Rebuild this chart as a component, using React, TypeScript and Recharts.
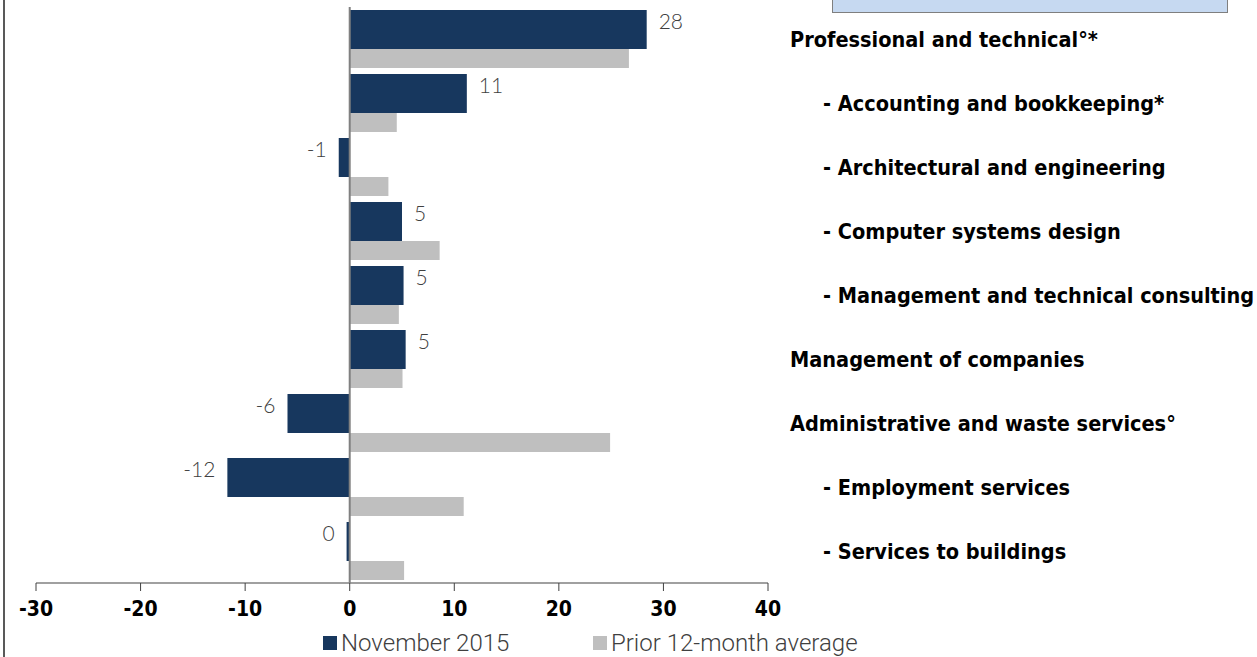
import { BarChart, Bar, XAxis, YAxis, ReferenceLine, LabelList, Legend } from "recharts";

const categories = [
  "Professional and technical°*",
  "- Accounting and bookkeeping*",
  "- Architectural and engineering",
  "- Computer systems design",
  "- Management and technical consulting",
  "Management of companies",
  "Administrative and waste services°",
  "- Employment services",
  "- Services to buildings",
];
const november2015 = [28.4, 11.2, -1.05, 5.0, 5.15, 5.35, -5.95, -11.7, -0.3];
const prior12Month = [26.7, 4.5, 3.7, 8.6, 4.7, 5.05, 24.9, 10.9, 5.2];
const xTicks = [-30, -20, -10, 0, 10, 20, 30, 40];

const NAVY = "#17375e";
const GRAY = "#bfbfbf";
const BOLD_FONT = "'DejaVu Sans Condensed', 'DejaVu Sans', sans-serif";
const LIGHT_FONT = "Lato, 'Open Sans', sans-serif";
const LEGEND_FONT = "Roboto, Lato, sans-serif";

const data = categories.map((name, i) => ({
  name,
  nov: november2015[i],
  prior: prior12Month[i],
}));

// left edge of each legend entry
const legendLeft = [323, 593];

function CategoryTick({ x, y, payload }: any) {
  const label: string = payload.value;
  const indent = label.startsWith("-") ? 55 : 22;
  return (
    <text
      x={x + indent}
      y={y}
      dy={8}
      textAnchor="start"
      fontFamily={BOLD_FONT}
      fontWeight="bold"
      fontSize={21.5}
      fill="#000"
    >
      {label}
    </text>
  );
}

function LegendContent({ payload }: any) {
  return (
    <div style={{ position: "relative", height: 30, fontFamily: LEGEND_FONT, fontWeight: 300, fontSize: 24, color: "#404040" }}>
      {(payload || []).map((p: any, i: number) => (
        <div
          key={i}
          style={{ position: "absolute", left: legendLeft[i], top: 0, display: "flex", alignItems: "center", whiteSpace: "nowrap", height: 30 }}
        >
          <span style={{ display: "inline-block", width: 14, height: 14, background: p.color, marginRight: 4 }} />
          <span>{p.value}</span>
        </div>
      ))}
    </div>
  );
}

export default function App() {
  return (
    <div style={{ position: "absolute", left: 0, top: 0, width: 1257, height: 657, background: "#fff", overflow: "hidden" }}>
      <div style={{ position: "absolute", left: 3, top: 0, width: 2, height: 657, background: "#595959" }} />
      <div
        style={{
          position: "absolute",
          left: 832,
          top: -20,
          width: 396,
          height: 33,
          background: "#c6d9f1",
          border: "1px solid #7f7f7f",
          boxSizing: "border-box",
        }}
      />
      <BarChart
        width={1257}
        height={657}
        data={data}
        layout="vertical"
        margin={{ top: 7, right: 0, bottom: 44, left: 36 }}
        barGap={0}
      >
        <XAxis
          type="number"
          domain={[-30, 40]}
          ticks={xTicks}
          interval={0}
          axisLine={{ stroke: "#808080", strokeWidth: 1.5 }}
          tickLine={{ stroke: "#404040" }}
          tickSize={8}
          tickMargin={10}
          tick={{ fontFamily: BOLD_FONT, fontWeight: "bold", fontSize: 21, fill: "#000" }}
          height={30}
        />
        <YAxis
          type="category"
          dataKey="name"
          orientation="right"
          width={489}
          axisLine={false}
          tickLine={false}
          tickSize={0}
          tickMargin={0}
          interval={0}
          tick={<CategoryTick />}
        />
        <Legend
          verticalAlign="middle"
          layout="horizontal"
          wrapperStyle={{ top: 628, left: 0, width: 1257 }}
          content={<LegendContent />}
        />
        <Bar dataKey="nov" name="November 2015" fill={NAVY} barSize={39} isAnimationActive={false}>
          <LabelList
            dataKey="nov"
            position="right"
            offset={12}
            formatter={(v: any) => String(Math.round(Number(v)))}
            style={{ fontFamily: LIGHT_FONT, fontWeight: 300, fontSize: 21, fill: "#404040" }}
            dy={-8}
          />
        </Bar>
        <Bar dataKey="prior" name="Prior 12-month average" fill={GRAY} barSize={19} isAnimationActive={false} />
        <ReferenceLine x={0} stroke="#808080" strokeWidth={2} />
      </BarChart>
    </div>
  );
}
